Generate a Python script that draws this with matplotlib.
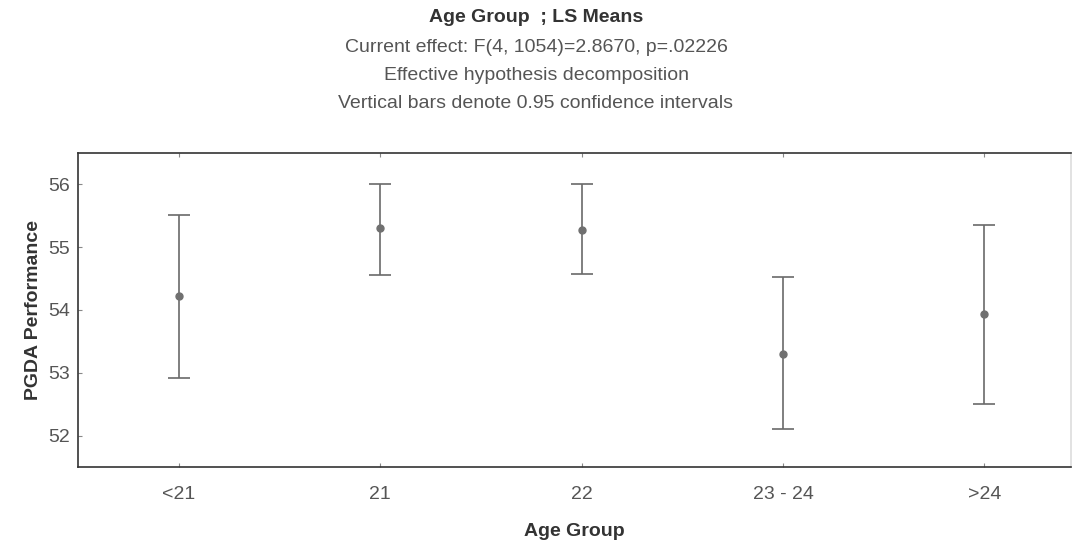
import matplotlib
matplotlib.use('Agg')
import matplotlib.pyplot as plt
import numpy as np

# LS means with 0.95 CI
groups = ['<21', '21', '22', '23 - 24', '>24']
means = [54.22, 55.30, 55.28, 53.30, 53.94]
upper = [55.52, 56.00, 56.00, 54.52, 55.35]
lower = [52.92, 54.55, 54.57, 52.11, 52.51]

plt.rcParams['font.family'] = ['Liberation Sans', 'DejaVu Sans']

fig = plt.figure(figsize=(10.72, 5.44), dpi=100)
ax = fig.add_axes([78/1072, 1 - 467/544, (1071-78)/1072, (467-153)/544])

x = np.arange(len(groups))
m = np.array(means)
err = np.vstack([m - np.array(lower), np.array(upper) - m])
ax.errorbar(x, m, yerr=err, fmt='o', color='#707070', ecolor='#6a6a6a',
            markersize=5, elinewidth=1.2, capsize=8, capthick=1.2)

ax.set_xlim(-0.5, 4.43)
ax.set_ylim(51.5, 56.5)
ax.set_xticks(x)
ax.set_xticklabels(groups)
ax.set_yticks([52, 53, 54, 55, 56])
ax.tick_params(direction='in', length=3, color='#888888', labelcolor='#555555',
               labelsize=14, top=True)
ax.tick_params(axis='x', pad=14)
ax.tick_params(axis='y', pad=6)
for s in ax.spines.values():
    s.set_color('#333333')
    s.set_linewidth(1.2)
ax.spines['right'].set_color('#dddddd')

ax.set_xlabel('Age Group', fontsize=14, fontweight='bold', color='#333333')
ax.xaxis.set_label_coords(0.5, -(523 - 467) / (467 - 153), transform=ax.transAxes)
ax.set_ylabel('PGDA Performance', fontsize=14, fontweight='bold', color='#333333')
ax.yaxis.set_label_coords(-(78 - 42) / (1071 - 78), 0.5, transform=ax.transAxes)

fig.text(0.5, 1 - 18/544, 'Age Group  ; LS Means', ha='center', va='center',
         fontsize=14, fontweight='bold', color='#333333')
fig.text(0.5, 1 - 47/544, 'Current effect: F(4, 1054)=2.8670, p=.02226', ha='center',
         va='center', fontsize=14, color='#555555')
fig.text(0.5, 1 - 75/544, 'Effective hypothesis decomposition', ha='center',
         va='center', fontsize=14, color='#555555')
fig.text(0.5, 1 - 104/544, 'Vertical bars denote 0.95 confidence intervals', ha='center',
         va='center', fontsize=14, color='#555555')

fig.savefig('out.png', dpi=100)
